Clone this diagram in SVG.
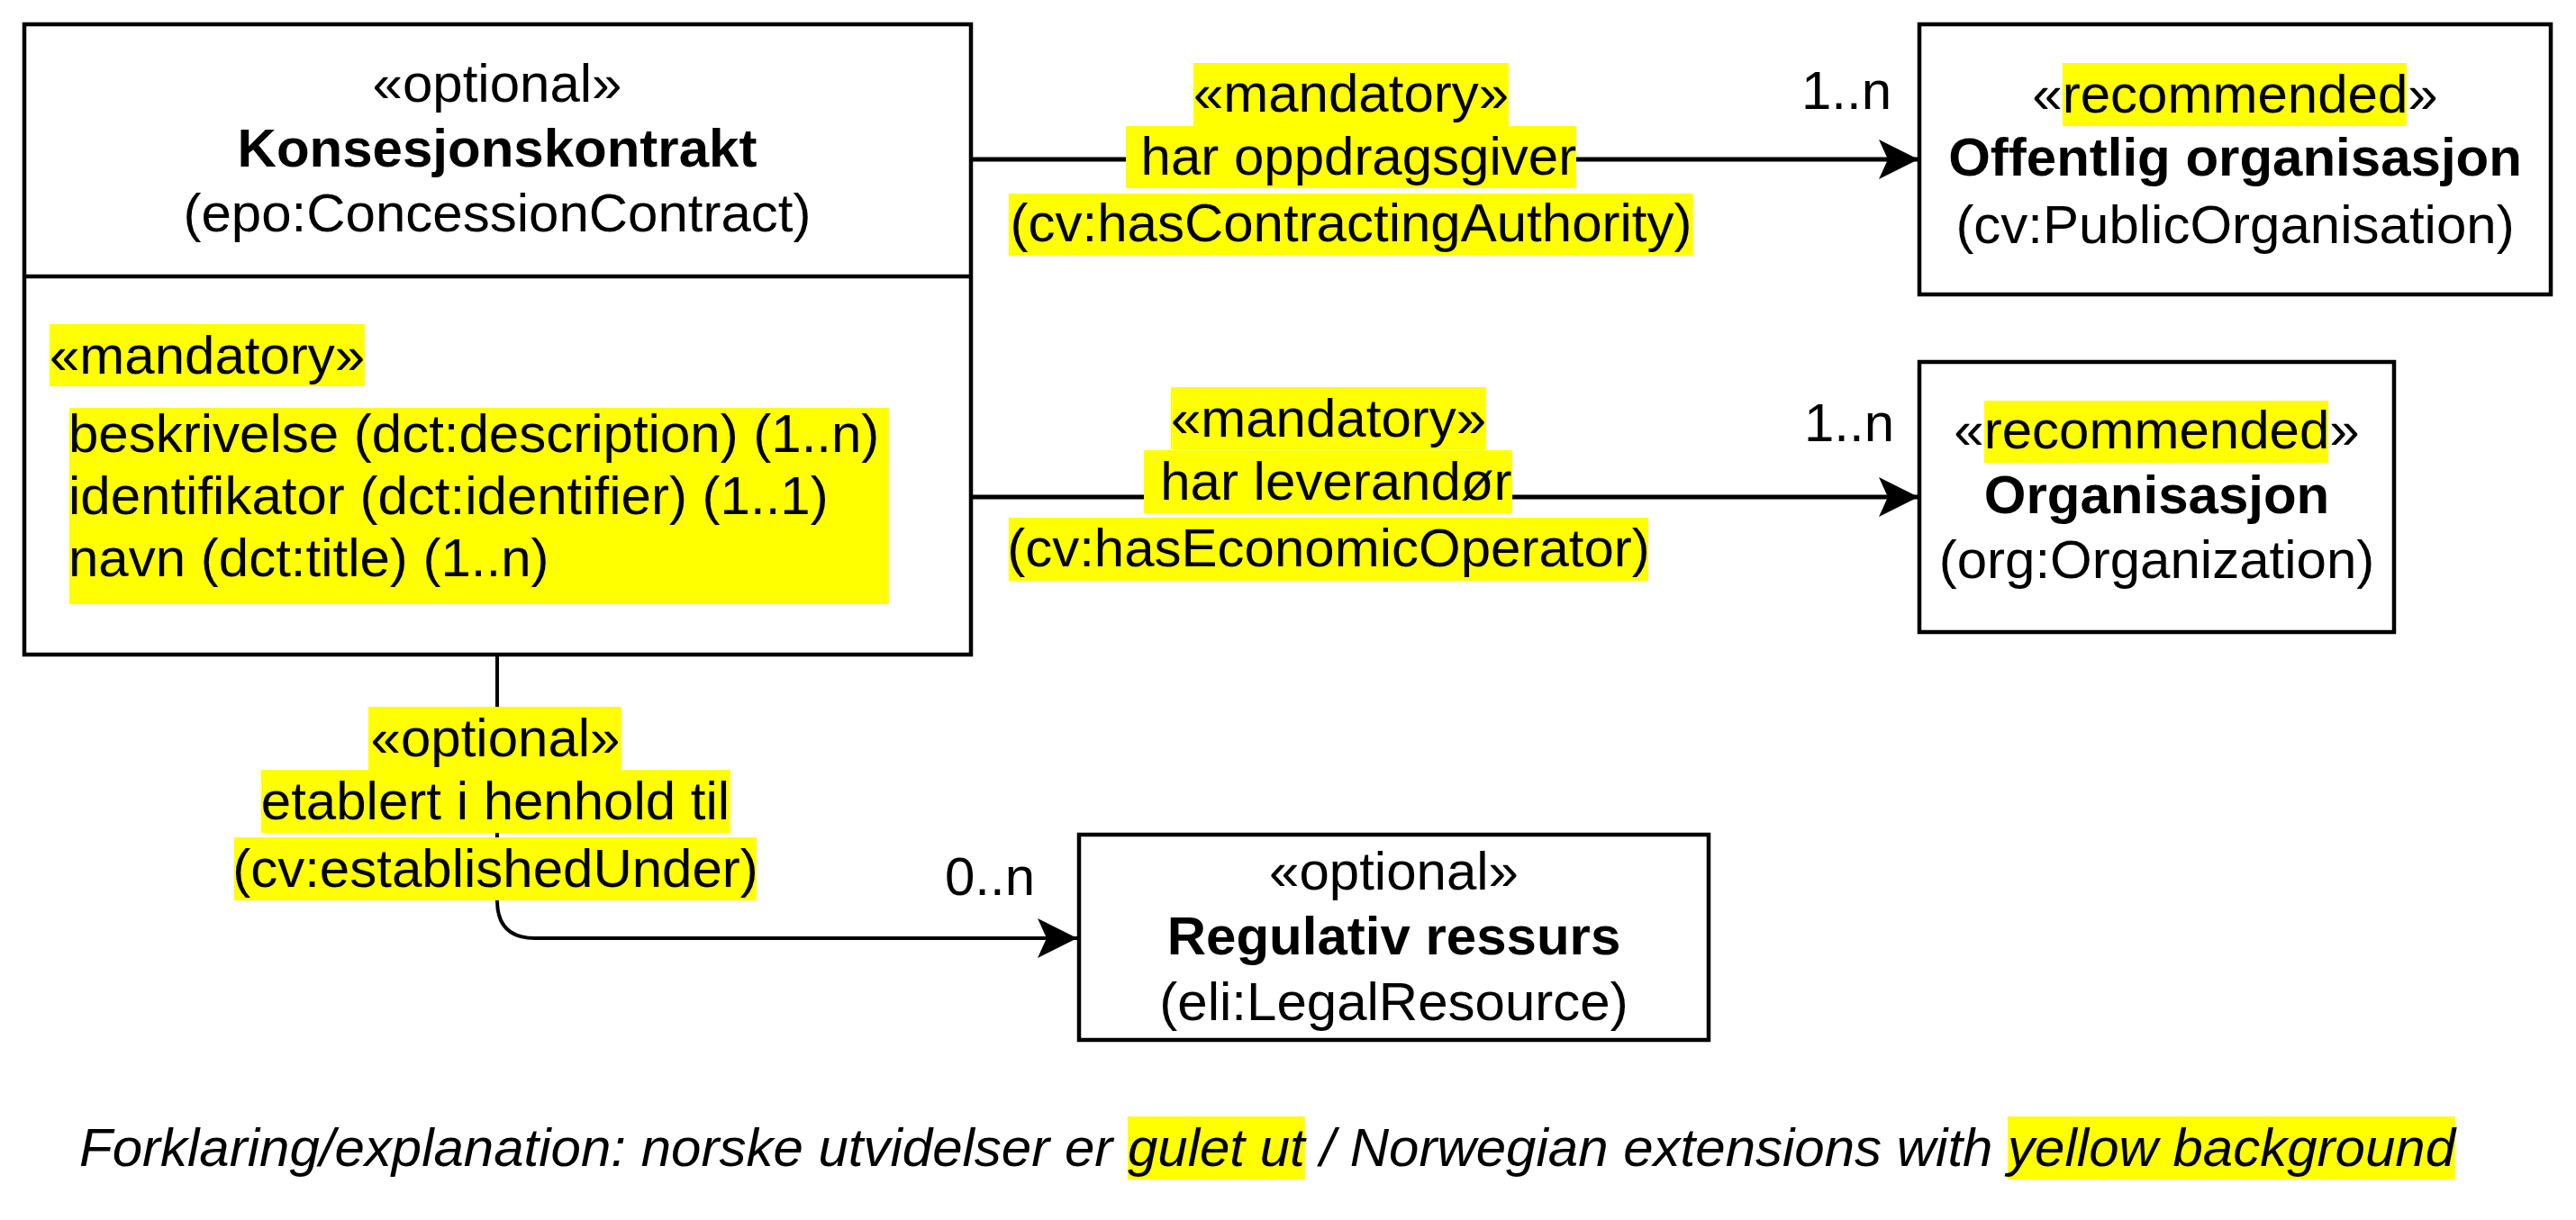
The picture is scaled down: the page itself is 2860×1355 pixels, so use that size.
<svg xmlns="http://www.w3.org/2000/svg" width="2860" height="1355" viewBox="0 0 2860 1355">
<style>
text{font-family:"Liberation Sans",Arial,sans-serif;font-size:60px;fill:#000}
.c{text-anchor:middle}
.e{text-anchor:end}
.b{font-weight:bold}
.i{font-style:italic}
.box{fill:#fff;stroke:#000;stroke-width:4.5}
.hl{fill:#ffff00}
.edge{fill:none;stroke:#000;stroke-width:5}
</style>
<defs>
<marker id="arr" markerUnits="userSpaceOnUse" markerWidth="50" markerHeight="50" refX="44" refY="22" orient="auto" viewBox="0 0 50 50">
<path d="M0,0 L44,22 L0,44 L10,22 Z" fill="#000"/>
</marker>
</defs>
<rect width="2860" height="1355" fill="#fff"/>

<g id="connectors">
<g id="edge-contracting">
<path class="edge" d="M1078,177 H2130" marker-end="url(#arr)"/>
<rect class="hl" x="1325" y="70" width="350" height="70"/>
<rect class="hl" x="1250" y="140" width="500" height="69"/>
<rect class="hl" x="1120" y="215" width="760" height="69"/>
<text class="c" x="1500" y="124">«mandatory»</text>
<text class="c" x="1500" y="194" xml:space="preserve"> har oppdragsgiver</text>
<text class="c" x="1500" y="268">(cv:hasContractingAuthority)</text>
<text class="e" x="2100" y="121">1..n</text>
</g>
<g id="edge-operator">
<path class="edge" d="M1078,552 H2130" marker-end="url(#arr)"/>
<rect class="hl" x="1300" y="430" width="350" height="69"/>
<rect class="hl" x="1270" y="500" width="409" height="70"/>
<rect class="hl" x="1120" y="575" width="710" height="70"/>
<text class="c" x="1475" y="485">«mandatory»</text>
<text class="c" x="1475" y="555" xml:space="preserve"> har leverandør</text>
<text class="c" x="1475" y="629">(cv:hasEconomicOperator)</text>
<text class="e" x="2103" y="490">1..n</text>
</g>
<g id="edge-established">
<path class="edge" d="M552,727 V1000 Q552,1042 594,1042 H1196" marker-end="url(#arr)" style="stroke-width:4"/>
<rect class="hl" x="409" y="785" width="281" height="70"/>
<rect class="hl" x="290" y="855" width="521" height="70"/>
<rect class="hl" x="260" y="930" width="580" height="70"/>
<text class="c" x="550" y="840">«optional»</text>
<text class="c" x="550" y="910">etablert i henhold til</text>
<text class="c" x="550" y="985">(cv:establishedUnder)</text>
<text class="e" x="1149" y="994">0..n</text>
</g>
</g>

<g id="node-konsesjonskontrakt">
<rect class="box" x="27" y="27" width="1051" height="700"/>
<line x1="27" y1="307" x2="1078" y2="307" stroke="#000" stroke-width="4.5"/>
<text class="c" x="552" y="113">«optional»</text>
<text class="c b" x="552" y="185">Konsesjonskontrakt</text>
<text class="c" x="552" y="257">(epo:ConcessionContract)</text>
<rect class="hl" x="55" y="360" width="350" height="69"/>
<text x="55" y="415">«mandatory»</text>
<rect class="hl" x="77" y="453" width="910" height="218"/>
<text x="76" y="502">beskrivelse (dct:description) (1..n)</text>
<text x="76" y="571">identifikator (dct:identifier) (1..1)</text>
<text x="76" y="640">navn (dct:title) (1..n)</text>
</g>

<g id="node-offentlig-organisasjon">
<rect class="box" x="2131" y="27" width="701" height="300"/>
<rect class="hl" x="2290" y="70" width="382" height="70"/>
<text class="c" x="2481.5" y="125">«recommended»</text>
<text class="c b" x="2481.5" y="195">Offentlig organisasjon</text>
<text class="c" x="2481.5" y="270">(cv:PublicOrganisation)</text>
</g>

<g id="node-organisasjon">
<rect class="box" x="2131" y="402" width="527" height="300"/>
<rect class="hl" x="2203" y="445" width="382" height="69"/>
<text class="c" x="2394.5" y="498">«recommended»</text>
<text class="c b" x="2394.5" y="570">Organisasjon</text>
<text class="c" x="2394.5" y="642">(org:Organization)</text>
</g>

<g id="node-regulativ-ressurs">
<rect class="box" x="1198" y="927" width="699" height="228"/>
<text class="c" x="1547.5" y="988">«optional»</text>
<text class="c b" x="1547.5" y="1060">Regulativ ressurs</text>
<text class="c" x="1547.5" y="1133">(eli:LegalResource)</text>
</g>

<g id="legend">
<rect class="hl" x="1252" y="1240" width="197" height="70"/>
<rect class="hl" x="2229" y="1240" width="497" height="70"/>
<text class="i" x="88" y="1295" xml:space="preserve">Forklaring/explanation: norske utvidelser er gulet ut / Norwegian extensions with yellow background</text>
</g>
</svg>
